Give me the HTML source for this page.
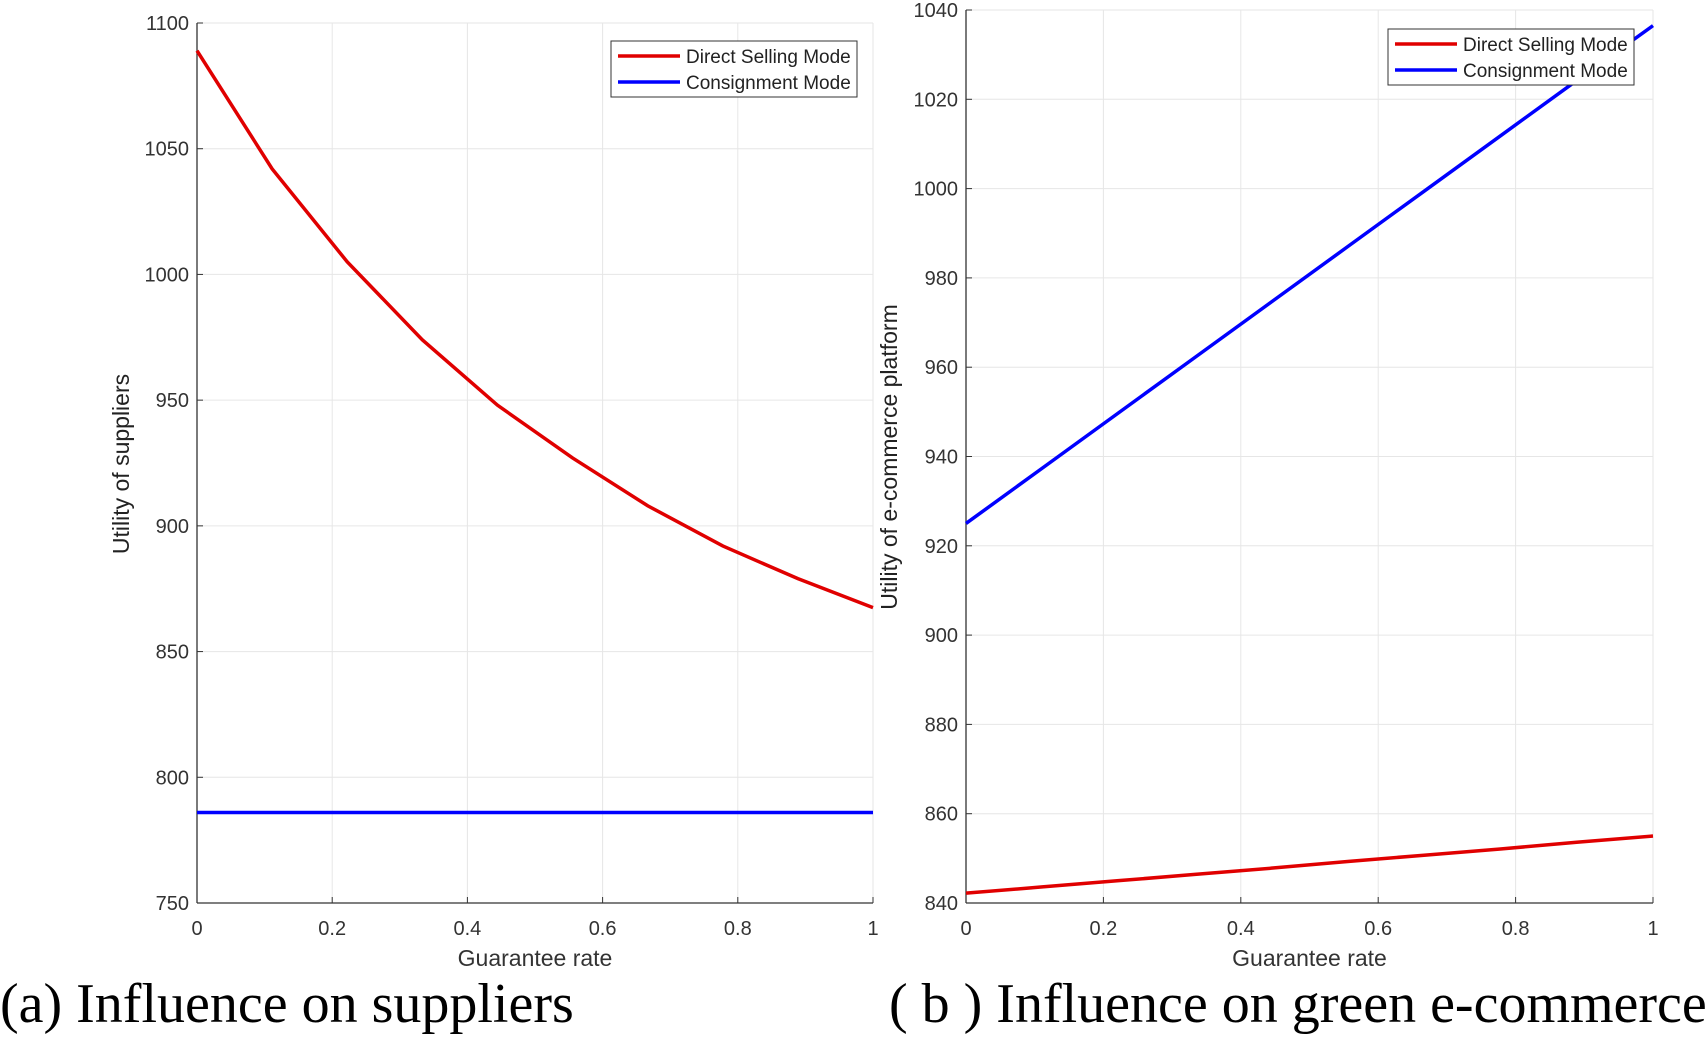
<!DOCTYPE html>
<html><head><meta charset="utf-8"><style>
body{margin:0;background:#fff;width:1705px;height:1034px;overflow:hidden}
svg{font-family:"Liberation Sans",sans-serif}
</style></head><body>
<svg id="c" width="1705" height="1034"></svg>
<script>
const xs=[0,1/9,2/9,3/9,4/9,5/9,6/9,7/9,8/9,1];
const xTicks=[0,0.2,0.4,0.6,0.8,1];
const xTickLabels=["0","0.2","0.4","0.6","0.8","1"];
const aDirect=[1089,1042,1005,974,948,927,908,892,879,867.5];
const aConsign=[786,786,786,786,786,786,786,786,786,786];
const aYTicks=[750,800,850,900,950,1000,1050,1100];
const bDirect=[842.2,843.6,845.0,846.4,847.8,849.3,850.7,852.1,853.6,855.0];
const bConsign=[925,937.4,949.8,962.2,974.6,987.0,999.4,1011.8,1024.2,1036.5];
const bYTicks=[840,860,880,900,920,940,960,980,1000,1020,1040];
const NS="http://www.w3.org/2000/svg";
const svg=document.getElementById('c');
function el(t,a,p){const e=document.createElementNS(NS,t);for(const k in a)e.setAttribute(k,a[k]);(p||svg).appendChild(e);return e;}
function panel(cfg){
  const g=el('g',{});
  
  
  const X=v=>cfg.x0+(cfg.x1-cfg.x0)*v;
  const Y=v=>cfg.yb-(cfg.yb-cfg.yt)*(v-cfg.ymin)/(cfg.ymax-cfg.ymin);
  xTicks.forEach((t,i)=>{
    const l=el('line',{x1:X(t),x2:X(t),y1:cfg.yt,y2:cfg.yb,stroke:'#e6e6e6','stroke-width':1},g);
    
    
    el('line',{x1:X(t),x2:X(t),y1:cfg.yb,y2:cfg.yb-6,stroke:'#333'},g);
    const tx=el('text',{x:X(t),y:cfg.yb+32,'text-anchor':'middle','font-size':20,fill:'#333'},g);
    tx.textContent=xTickLabels[i];
    
    
  });
  cfg.yTicks.forEach(t=>{
    const l=el('line',{x1:cfg.x0,x2:cfg.x1,y1:Y(t),y2:Y(t),stroke:'#e6e6e6'},g);
    
    
    el('line',{x1:cfg.x0,x2:cfg.x0+6,y1:Y(t),y2:Y(t),stroke:'#333'},g);
    const tx=el('text',{x:cfg.x0-8,y:Y(t)+7,'text-anchor':'end','font-size':20,fill:'#333'},g);
    tx.textContent=t;
    
    
  });
  el('line',{x1:cfg.x0,x2:cfg.x1,y1:cfg.yb,y2:cfg.yb,stroke:'#333','stroke-width':1.3},g);
  el('line',{x1:cfg.x0,x2:cfg.x0,y1:cfg.yt,y2:cfg.yb,stroke:'#333','stroke-width':1.3},g);
  [[cfg.direct,'#e00000','direct-selling-line'],[cfg.consign,'#0000ff','consignment-line']].forEach(s=>{
    const p=el('polyline',{points:xs.map((x,i)=>X(x)+','+Y(s[0][i])).join(' '),fill:'none',stroke:s[1],'stroke-width':3.5},g);
    
    
  });
  const xt=el('text',{x:(cfg.x0+cfg.x1)/2,y:cfg.yb+63,'text-anchor':'middle','font-size':23,fill:'#333'},g);
  xt.textContent='Guarantee rate';
  
  
  const yt=el('text',{x:0,y:0,'text-anchor':'middle','font-size':23,fill:'#222',transform:`translate(${cfg.ylx},${cfg.ylc}) rotate(-90)`},g);
  yt.textContent=cfg.ylabel;
  
  
  const lg=el('g',{},g);
  
  
  el('rect',{x:cfg.lx,y:cfg.ly,width:246,height:56,fill:'#fff',stroke:'#333','stroke-width':1},lg);
  [['Direct Selling Mode','#e00000'],['Consignment Mode','#0000ff']].forEach((e,i)=>{
    const yy=cfg.ly+15+i*26;
    el('line',{x1:cfg.lx+7,x2:cfg.lx+69,y1:yy,y2:yy,stroke:e[1],'stroke-width':3.5},lg);
    const t=el('text',{x:cfg.lx+75,y:yy+7,'font-size':19,fill:'#222'},lg);
    t.textContent=e[0];
    
    
  });
  const cap=el('text',{x:cfg.capx,y:1022,'font-family':'"Liberation Serif",serif','font-size':56,fill:'#000'},g);
  cap.textContent=cfg.caption;
  
  
}
panel({name:'panel-a',x0:197,x1:873,yt:23,yb:903,ymin:750,ymax:1100,yTicks:aYTicks,direct:aDirect,consign:aConsign,ylabel:'Utility of suppliers',ylx:129,ylc:464,lx:611,ly:41,capx:0,caption:'(a) Influence on suppliers'});
panel({name:'panel-b',x0:966,x1:1653,yt:10,yb:903,ymin:840,ymax:1040,yTicks:bYTicks,direct:bDirect,consign:bConsign,ylabel:'Utility of e-commerce platform',ylx:897,ylc:457,lx:1388,ly:29,capx:889,caption:'( b ) Influence on green e-commerce'});
</script>
</body></html>
